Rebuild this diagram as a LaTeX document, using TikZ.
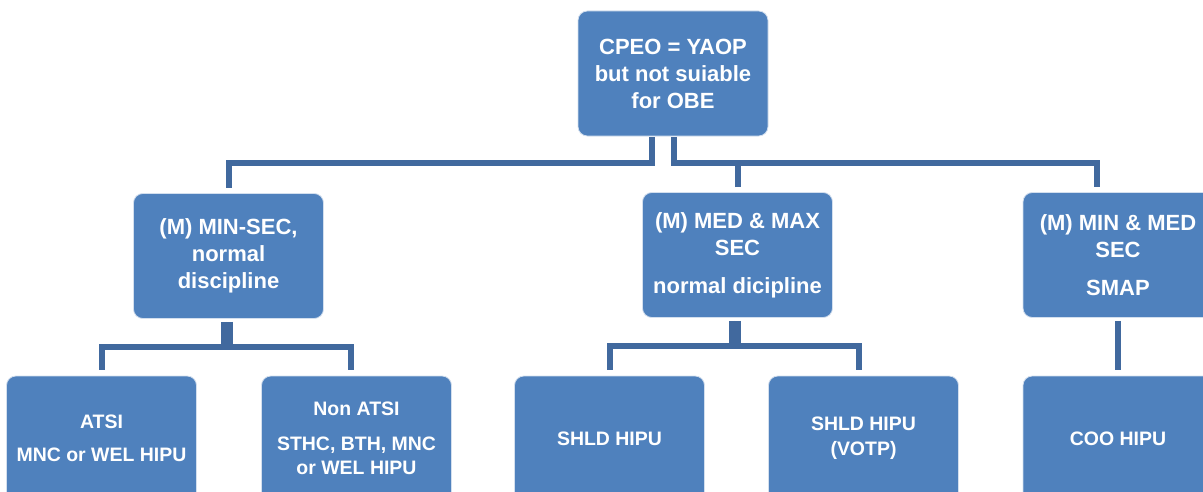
\documentclass[tikz,border=0pt]{standalone}
\usepackage{fontspec}
\setmainfont{Liberation Sans}
\definecolor{cpfill}{HTML}{4F81BD}
\definecolor{cpline}{HTML}{41699E}
\tikzstyle{cp-box}=[draw=white!75!cpfill, line width=0.6pt, fill=cpfill, rounded corners=7pt,
  minimum width=142.5pt, minimum height=93.75pt, inner sep=2pt, align=center, text=white,
  font=\fontsize{16.5}{20.25}\selectfont\bfseries]
\tikzstyle{cp-leaf}=[cp-box, font=\fontsize{14.6}{18.5}\selectfont\bfseries]
\tikzstyle{cp-link}=[draw=cpline, line width=4.5pt]

\begin{document}
\begin{tikzpicture}[x=0.75pt, y=-0.75pt]
    \useasboundingbox (0,0) rectangle (1203,492);
    \clip (0,0) rectangle (1203,492);
    \node[cp-box]  (cpeo)    at (673,73.5)    {CPEO = YAOP\\but not suiable\\for OBE};
    \node[cp-box]  (minsec)  at (228.5,256)   {(M) MIN-SEC,\\normal\\discipline};
    \node[cp-box]  (medmax)  at (737.5,255)   {(M) MED \& MAX\\SEC\\[8.25pt]normal dicipline};
    \node[cp-box]  (minmed)  at (1118,255)    {(M) MIN \& MED\\SEC\\[8.25pt]SMAP};
    \node[cp-leaf] (atsi)    at (101.5,438.5) {ATSI\\[6pt]MNC or WEL HIPU};
    \node[cp-leaf] (nonatsi) at (356.5,438.5) {Non ATSI\\[7.5pt]STHC, BTH, MNC\\or WEL HIPU};
    \node[cp-leaf] (shld)    at (609.5,438.5) {SHLD HIPU};
    \node[cp-leaf] (votp)    at (863.5,438.5) {SHLD HIPU\\(VOTP)};
    \node[cp-leaf] (coo)     at (1118,438.5)  {COO HIPU};
    \coordinate (bar) at ([yshift=-20.25pt]cpeo.south);
    \draw[cp-link] ([xshift=-15.75pt,yshift=-0.75pt]cpeo.south) -- ++(0,26) -| ([yshift=3.75pt]minsec.north);
    \draw[cp-link] ([xshift=0.75pt,yshift=-0.75pt]cpeo.south) -- ++(0,26) -| ([xshift=-15.75pt,yshift=3.75pt]minmed.north);
    \draw[cp-link] ([yshift=3.75pt]medmax.north) to (medmax.north |- bar);
    \draw[cp-link] ([xshift=-3.75pt,yshift=-2.25pt]minsec.south) -- ++(0,25) -| ([yshift=4.5pt]atsi.north);
    \draw[cp-link] ([xshift=0.75pt,yshift=-2.25pt]minsec.south) -- ++(0,25) -| ([xshift=-4.5pt,yshift=4.5pt]nonatsi.north);
    \draw[cp-link] ([xshift=-4.5pt,yshift=-2.25pt]medmax.south) -- ++(0,25) -| ([yshift=4.5pt]shld.north);
    \draw[cp-link] ([yshift=-2.25pt]medmax.south) -- ++(0,25) -| ([xshift=-3.75pt,yshift=4.5pt]votp.north);
    \draw[cp-link] ([yshift=-2.25pt]minmed.south) to ([yshift=4.5pt]coo.north);
  \end{tikzpicture}
\end{document}
